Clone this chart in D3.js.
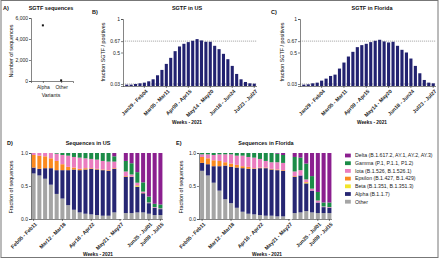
<!DOCTYPE html>
<html>
<head>
<meta charset="utf-8">
<script src="https://cdn.jsdelivr.net/npm/d3@7"></script>
<style>
  body { margin: 0; background: #fff; }
  svg { display: block; font-family: 'Liberation Sans', Arial, sans-serif; }
  .axis path, .axis line { stroke: #333; stroke-width: 0.6; }
  .axis text { fill: #222; font-size: 5px; }
  .axis.xlab text { font-size: 5.2px; font-weight: bold; }
</style>
</head>
<body>
<svg id="chart" width="440" height="261"></svg>
<script>
// panel A: SGTF sequences per variant
const variantNames = ['Alpha', 'Other']
const variantCounts = [5300, 60]
const countTicks = [0, 2000, 4000, 6000]

// panels B and C: weekly share of SGTF among positive tests
const sgtfWeeks = [
  'Jan01 - Jan07', 'Jan08 - Jan14', 'Jan15 - Jan21', 'Jan22 - Jan28', 'Jan29 - Feb04',
  'Feb05 - Feb11', 'Feb12 - Feb18', 'Feb19 - Feb25', 'Feb26 - Mar04', 'Mar05 - Mar11',
  'Mar12 - Mar18', 'Mar19 - Mar25', 'Mar26 - Apr01', 'Apr02 - Apr08', 'Apr09 - Apr15',
  'Apr16 - Apr22', 'Apr23 - Apr29', 'Apr30 - May06', 'May07 - May13', 'May14 - May20',
  'May21 - May27', 'May28 - Jun03', 'Jun04 - Jun10', 'Jun11 - Jun17', 'Jun18 - Jun24',
  'Jun25 - Jul01', 'Jul02 - Jul08', 'Jul09 - Jul15', 'Jul16 - Jul22', 'Jul23 - Jul27'
]
const sgtfTickLabels = ['Jan29 - Feb04', 'Mar05 - Mar11', 'Apr09 - Apr15', 'May14 - May20', 'Jun18 - Jun24', 'Jul23 - Jul27']
const sgtfUS = [0.02, 0.02, 0.03, 0.04, 0.05, 0.07, 0.10, 0.16, 0.24, 0.33, 0.42, 0.52, 0.59, 0.63, 0.655,
  0.675, 0.70, 0.68, 0.66, 0.66, 0.60, 0.55, 0.48, 0.40, 0.30, 0.18, 0.10, 0.06, 0.04, 0.035]
const sgtfFlorida = [0.02, 0.025, 0.04, 0.05, 0.08, 0.11, 0.15, 0.17, 0.26, 0.35, 0.44, 0.51, 0.58, 0.61, 0.63,
  0.655, 0.675, 0.69, 0.665, 0.65, 0.66, 0.60, 0.54, 0.50, 0.41, 0.30, 0.19, 0.09, 0.05, 0.04]
const fractionTicks = [0.03, 0.5, 0.67, 1]
const refLines = [0.67, 0.03]

// panels D and E: weekly lineage shares among sequences (May21 week has no data)
const seqWeeks = [
  'Feb05 - Feb11', 'Feb12 - Feb18', 'Feb19 - Feb25', 'Feb26 - Mar04', 'Mar05 - Mar11',
  'Mar12 - Mar18', 'Mar19 - Mar25', 'Mar26 - Apr01', 'Apr02 - Apr08', 'Apr09 - Apr15',
  'Apr16 - Apr22', 'Apr23 - Apr29', 'Apr30 - May06', 'May07 - May13', 'May14 - May20',
  'May21 - May27', 'May28 - Jun03', 'Jun04 - Jun10', 'Jun11 - Jun17', 'Jun18 - Jun24',
  'Jun25 - Jul01', 'Jul02 - Jul08', 'Jul09 - Jul15'
]
const seqTickLabels = ['Feb05 - Feb11', 'Mar12 - Mar18', 'Apr16 - Apr22', 'May21 - May27', 'Jun25 - Jul01', 'Jul09 - Jul15']
const lineages = ['Other', 'Alpha', 'Beta', 'Epsilon', 'Iota', 'Gamma', 'Delta']
const lineageLabels = ['Other', 'Alpha (B.1.1.7)', 'Beta (B.1.351, B.1.351.3)', 'Epsilon (B.1.427, B.1.429)',
  'Iota (B.1.526, B.1.526.1)', 'Gamma (P.1, P.1.1, P1.2)', 'Delta (B.1.617.2, AY.1, AY.2, AY.3)']
const lineageColors = ['#a5a5a5', '#262673', '#f2e52a', '#fb8a1f', '#ea7cbf', '#1b8c47', '#8b1f8f']

const usOther   = [.69, .66, .61, .52, .38, .31, .21, .14, .10, .08, .07, .06, .05, .05, .10, null, .09, .09, .10, .10, .08, .06, .06]
const usAlpha   = [.09, .10, .16, .25, .36, .43, .53, .61, .64, .67, .69, .69, .69, .68, .66, null, .55, .55, .39, .29, .16, .11, .09]
const usBeta    = [0, 0, 0, 0, 0, 0, 0, 0, 0, 0, 0, 0, 0, 0, 0, null, 0, 0, .01, 0, 0, 0, 0]
const usEpsilon = [.19, .20, .18, .15, .14, .09, .05, .03, .02, .02, .01, .01, .01, .01, .01, null, .01, .005, .01, .005, 0, 0, 0]
const usIota    = [.03, .04, .05, .08, .11, .14, .17, .16, .17, .15, .14, .14, .13, .13, .10, null, .07, .03, .04, .02, .01, .01, .01]
const usGamma   = [0, 0, 0, 0, .01, .03, .04, .06, .07, .08, .09, .10, .12, .13, .08, null, .16, .17, .16, .14, .09, .05, .06]
const usDelta   = [0, 0, 0, 0, 0, 0, 0, 0, 0, 0, 0, 0, 0, 0, .05, null, .12, .155, .29, .45, .66, .77, .78]

const flOther   = [.73, .66, .55, .43, .30, .24, .17, .11, .08, .07, .06, .05, .05, .04, .04, null, .09, .10, .12, .10, .09, .09, .09]
const flAlpha   = [.12, .17, .25, .37, .51, .55, .61, .66, .68, .69, .71, .72, .70, .70, .69, null, .55, .56, .42, .33, .16, .09, .08]
const flBeta    = [0, 0, 0, 0, 0, 0, 0, 0, 0, 0, 0, 0, 0, 0, 0, null, 0, 0, .01, 0, 0, 0, 0]
const flEpsilon = [.09, .09, .09, .08, .05, .05, .04, .03, .03, .01, .01, .01, .01, .01, .01, null, .01, 0, .01, 0, 0, 0, 0]
const flIota    = [.04, .06, .08, .10, .12, .14, .14, .16, .15, .16, .13, .10, .10, .11, .11, null, .07, .08, .04, .03, .03, .01, .01]
const flGamma   = [.02, .02, .03, .02, .02, .02, .04, .04, .06, .07, .09, .12, .14, .13, .12, null, .22, .19, .24, .19, .13, .06, .07]
const flDelta   = [0, 0, 0, 0, 0, 0, 0, 0, 0, 0, 0, 0, 0, .01, .03, null, .06, .07, .16, .35, .59, .75, .75]

const svg = d3.select('#chart')

// outer frame of the figure
svg.append('rect')
  .attr('x', 1).attr('y', 0.5).attr('width', 437).attr('height', 257)
  .attr('fill', 'none').attr('stroke', '#777').attr('stroke-width', 1)

// small helper for text
function label(x, y, txt, size, opts = {}) {
  const t = svg.append('text')
    .attr('x', x).attr('y', y)
    .attr('font-size', size)
    .attr('font-weight', opts.bold ? 'bold' : 'normal')
    .attr('text-anchor', opts.anchor || 'middle')
    .attr('fill', '#111')
    .text(txt)
  if (opts.rotate) t.attr('transform', `rotate(${opts.rotate},${x},${y})`)
  return t
}

// rotated week labels under an x axis
function tiltLabels(gx) {
  gx.selectAll('text')
    .attr('text-anchor', 'end')
    .attr('dy', 0)
    .attr('transform', 'translate(1.5,3.5) rotate(-45)')
}

// ---------- panel A ----------
const aY = d3.scaleLinear().domain([0, 6000]).range([81, 18])
const aX = d3.scalePoint().domain(variantNames).range([31, 73]).padding(0.65)
svg.append('g').attr('class', 'axis')
  .attr('transform', 'translate(31,0)')
  .call(d3.axisLeft(aY).tickValues(countTicks).tickSize(2).tickPadding(1))
svg.append('g').attr('class', 'axis')
  .attr('transform', 'translate(0,81)')
  .call(d3.axisBottom(aX).tickSize(2).tickPadding(2))
svg.selectAll('.dotA')
  .data(variantNames)
  .enter()
  .append('rect')
  .attr('x', d => aX(d) - 1)
  .attr('y', (d, i) => aY(variantCounts[i]) - 1)
  .attr('width', 2).attr('height', 2)
  .attr('fill', '#111')
label(3, 10, 'A)', 5.5, {bold: true, anchor: 'start'})
label(51, 9.5, 'SGTF sequences', 5.5, {bold: true})
label(12.5, 51, 'Number of sequences', 5.4, {rotate: -90})
label(51, 97, 'Variants', 5.2)

// ---------- panels B and C ----------
function sgtfPanel(values, o) {
  const y = d3.scaleLinear().domain([0, 1]).range([86, 19])
  const x = d3.scaleBand().domain(sgtfWeeks).range(o.band).paddingInner(0.3).paddingOuter(0.05)

  // reference lines
  svg.append('g')
    .selectAll('line')
    .data(refLines)
    .enter()
    .append('line')
    .attr('x1', o.axisX).attr('x2', o.band[1] + 1)
    .attr('y1', d => y(d)).attr('y2', d => y(d))
    .attr('stroke', '#777').attr('stroke-width', 0.6).attr('stroke-dasharray', '1.2,0.8')

  // bars
  svg.append('g')
    .selectAll('rect')
    .data(values)
    .enter()
    .append('rect')
    .attr('x', (d, i) => x(sgtfWeeks[i]))
    .attr('width', x.bandwidth())
    .attr('y', d => y(d))
    .attr('height', d => y(0) - y(d))
    .attr('fill', '#222270')

  svg.append('g').attr('class', 'axis')
    .attr('transform', `translate(${o.axisX},0)`)
    .call(d3.axisLeft(y).tickValues(fractionTicks).tickFormat(d => d).tickSize(2).tickPadding(1))
  const gx = svg.append('g').attr('class', 'axis xlab')
    .attr('transform', 'translate(0,86)')
    .call(d3.axisBottom(x).tickValues(sgtfTickLabels).tickSize(2).tickPadding(1))
  gx.select('.domain').attr('d', `M${o.axisX},0.5H${o.band[1] + 1}`)
  tiltLabels(gx)

  label(o.letterX, 14, o.letter, 5.5, {bold: true, anchor: 'start'})
  label(o.titleX, 9.5, o.title, 5.5, {bold: true})
  label(o.yLabelX, 52, 'fraction SGTF / positives', 5.4, {rotate: -90})
  label(o.titleX, 123.5, 'Weeks - 2021', 4.8, {bold: true})
}
sgtfPanel(sgtfUS, {axisX: 123, band: [125, 256], letter: 'B)', letterX: 92, title: 'SGTF in US', titleX: 187, yLabelX: 105})
sgtfPanel(sgtfFlorida, {axisX: 300, band: [302, 435], letter: 'C)', letterX: 271, title: 'SGTF in Florida', titleX: 372, yLabelX: 284})

// ---------- panels D and E ----------
function seqPanel(series, o) {
  // one row per week, empty weeks kept out of the stack
  const rows = seqWeeks.map((w, i) => {
    const r = {week: w, missing: series[0][i] === null}
    lineages.forEach((k, j) => { r[k] = series[j][i] || 0 })
    return r
  })
  const stacked = d3.stack().keys(lineages)(rows)
  const y = d3.scaleLinear().domain([0, 1]).range([219, 153])
  const x = d3.scaleBand().domain(seqWeeks).range(o.band).paddingInner(0.3).paddingOuter(0.1)

  svg.append('g')
    .selectAll('g')
    .data(stacked)
    .enter()
    .append('g')
    .attr('fill', (d, i) => lineageColors[i])
    .selectAll('rect')
    .data(d => d.filter(p => !p.data.missing))
    .enter()
    .append('rect')
    .attr('x', d => x(d.data.week))
    .attr('width', x.bandwidth())
    .attr('y', d => y(Math.min(1, d[1])))
    .attr('height', d => Math.max(0, y(d[0]) - y(Math.min(1, d[1]))))

  svg.append('g').attr('class', 'axis')
    .attr('transform', `translate(${o.axisX},0)`)
    .call(d3.axisLeft(y).tickValues([0, 0.5, 1]).tickFormat(d3.format('.1f')).tickSize(2).tickPadding(1))
  const gx = svg.append('g').attr('class', 'axis xlab')
    .attr('transform', 'translate(0,219)')
    .call(d3.axisBottom(x).tickValues(seqTickLabels).tickSize(2).tickPadding(1))
  // broken axis around the missing week
  const gapStart = x('May21 - May27') + x.bandwidth() / 2 + 1.5
  const gapEnd = x('May28 - Jun03') - 1
  gx.select('.domain').attr('d', `M${o.axisX},0.5H${gapStart}M${gapEnd},0.5H${o.band[1]}`)
  tiltLabels(gx)

  label(o.letterX, 145, o.letter, 5.5, {bold: true, anchor: 'start'})
  label(o.titleX, 145, o.title, 5.5, {bold: true})
  label(o.yLabelX, 187, 'Fraction of sequences', 5.4, {rotate: -90})
  label(o.weeksX, 255.5, 'Weeks - 2021', 4.8, {bold: true})
}
seqPanel([usOther, usAlpha, usBeta, usEpsilon, usIota, usGamma, usDelta],
  {axisX: 31, band: [31, 163], letter: 'D)', letterX: 7, title: 'Sequences in US', titleX: 88, yLabelX: 13, weeksX: 98})
seqPanel([flOther, flAlpha, flBeta, flEpsilon, flIota, flGamma, flDelta],
  {axisX: 199, band: [199.5, 332], letter: 'E)', letterX: 176, title: 'Sequences in Florida', titleX: 266, yLabelX: 183, weeksX: 267})

// ---------- legend ----------
const legend = svg.append('g')
  .selectAll('g')
  .data(lineages.slice().reverse())
  .enter()
  .append('g')
  .attr('transform', (d, i) => `translate(345,${155.5 + i * 7.7})`)
legend.append('rect')
  .attr('x', 0).attr('y', -1.9).attr('width', 5.8).attr('height', 3.8)
  .attr('fill', d => lineageColors[lineages.indexOf(d)])
legend.append('text')
  .attr('x', 10).attr('y', 1.8)
  .attr('font-size', 5.2).attr('fill', '#222')
  .text(d => lineageLabels[lineages.indexOf(d)])
</script>
</body>
</html>
